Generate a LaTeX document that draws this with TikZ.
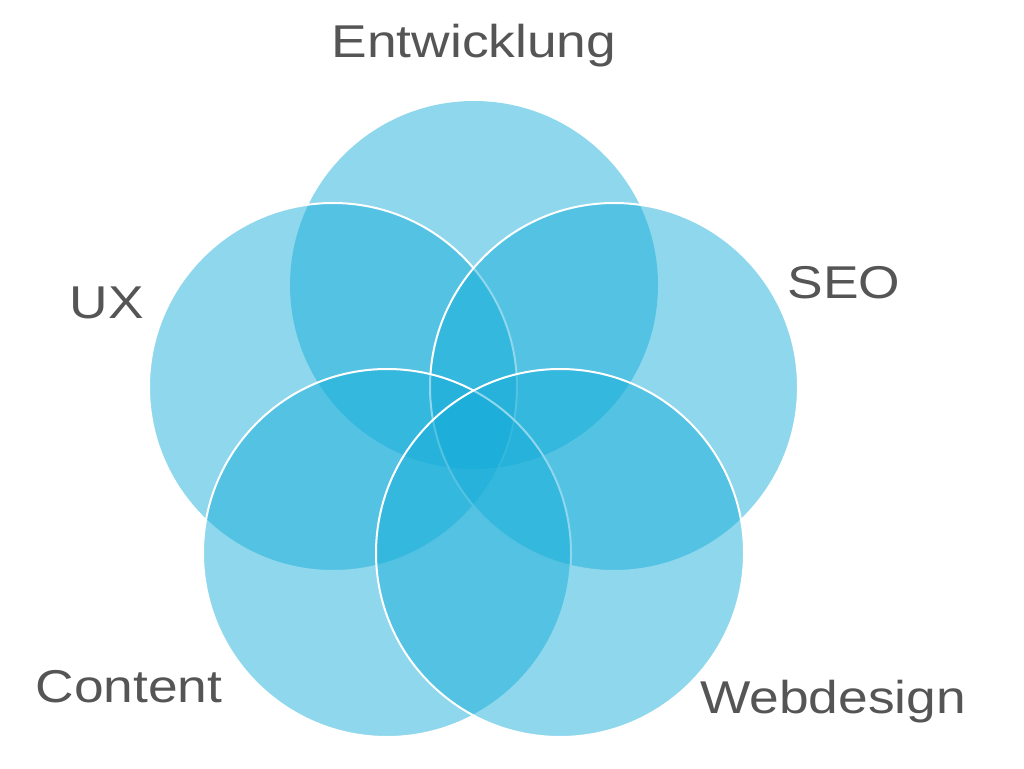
\documentclass[tikz,border=0pt]{standalone}
\usepackage{fontspec}
\setmainfont{Liberation Sans}
\newfontfamily\lblfont[FakeStretch=1.16]{Liberation Sans}
\definecolor{vblue}{RGB}{20,172,216}
\definecolor{labelgray}{RGB}{85,85,85}
\begin{document}
\begin{tikzpicture}[x=1pt,y=-1pt,
  venn/.style={circle, minimum size=368pt, inner sep=0pt, fill=vblue, fill opacity=0.48},
  vennline/.style={venn, draw=white, line width=2pt},
  lbl/.style={anchor=base, text=labelgray, inner sep=0pt, font=\lblfont\fontsize{46}{52}\selectfont}]
\useasboundingbox (0,0) rectangle (1024,768);
\node[venn] (ent) at (474,285) {};
\node[vennline] (ux) at (333,387) {};
\node[vennline] (seo) at (614,387) {};
\node[vennline] (con) at (387,553) {};
\node[vennline] (web) at (560,553) {};
\node[lbl] (tent) at (474,58) {Entwicklung};
\node[lbl] (tux) at (107,318) {UX};
\node[lbl] (tseo) at (844,298) {SEO};
\node[lbl] (tcon) at (129,702) {Content};
\node[lbl] (tweb) at (833,713) {Webdesign};
\end{tikzpicture}
\end{document}
